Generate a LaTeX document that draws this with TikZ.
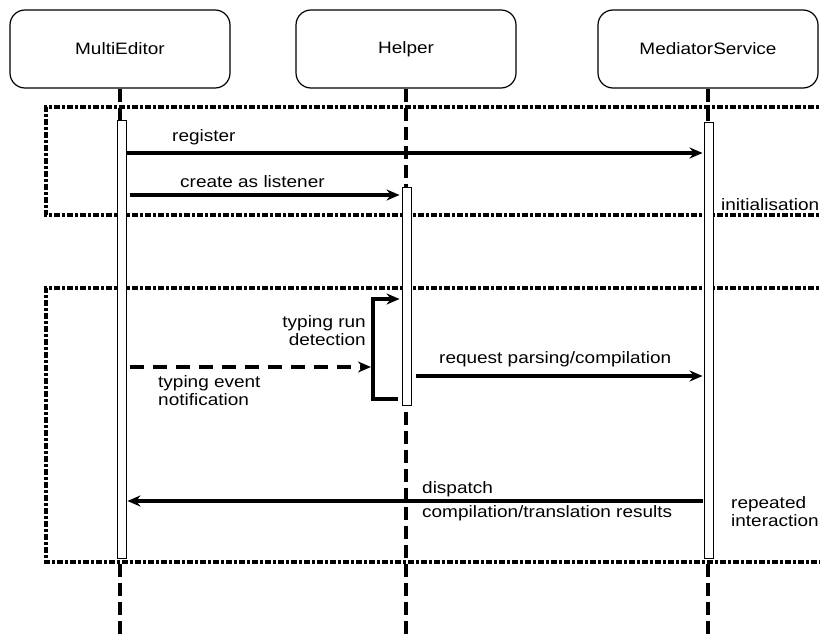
\documentclass[tikz,border=0pt]{standalone}
\usepackage{fontspec}
\setmainfont{Liberation Sans}[FakeStretch=1.15]
\usetikzlibrary{arrows.meta}
\begin{document}
\begin{tikzpicture}[x=1pt,y=-1pt,
  every node/.style={font=\fontsize{16.5}{18}\selectfont, inner sep=0pt},
  objbox/.style={draw, line width=1.2pt, rounded corners=15pt, minimum width=220pt, minimum height=78pt},
  actbar/.style={draw, fill=white, line width=0.9pt, minimum width=9pt},
  lifeline/.style={line width=3.5pt, dash pattern=on 13pt off 6pt},
  frameline/.style={line width=3.2pt, dash pattern=on 6pt off 2pt on 3pt off 2pt},
  msg/.style={line width=3.5pt, -{Stealth[length=13pt,width=11pt]}},
  dmsg/.style={msg, dash pattern=on 14pt off 9pt},
  lbl/.style={anchor=west},
]
\clip (0,0) rectangle (820,634);
\fill[white] (0,0) rectangle (820,634);

% objects
\node[objbox] (me) at (120,49) {MultiEditor};
\node[objbox] (hp) at (406,49) {Helper};
\node[objbox] (ms) at (708,49) {MediatorService};

% frames
\draw[frameline] (840,107) -- (46,107) -- (46,215) -- (840,215);
\draw[frameline] (840,288) -- (46,288) -- (46,562) -- (840,562);

% lifelines
\coordinate (meEnd) at (120,640);
\coordinate (hpEnd) at (406,640);
\coordinate (msEnd) at (708,640);
\draw[lifeline] (me.south) -- (meEnd);
\draw[lifeline] (hp.south) -- (hpEnd);
\draw[lifeline] (ms.south) -- (msEnd);

% activation bars
\node[actbar, minimum height=438pt] (actME) at (121.5,339) {};
\node[actbar, minimum height=218pt] (actHP) at (406.5,296) {};
\node[actbar, minimum height=436pt] (actMS) at (708.5,340) {};

% initialisation
\draw[msg] (actME.east |- 0,153) -- ([xshift=-1pt]actMS.west |- 0,153);
\node[lbl] (lreg) at (172,137) {register};
\draw[msg] ([xshift=4pt]actME.east |- 0,195) -- ([xshift=-2pt]actHP.west |- 0,195);
\node[lbl] (lcreate) at (180,182) {create as listener};
\node[lbl] (linit) at (721,205) {initialisation};

% repeated interaction
\coordinate (loopA) at (398,399);
\coordinate (loopB) at (373,399);
\coordinate (loopC) at (373,299);
\draw[msg] (loopA) -- (loopB) -- (loopC) -- ([xshift=-2pt]actHP.west |- loopC);
\node[anchor=east, align=right] (lrun) at (366,331) {typing run\\detection};

\coordinate (typEnd) at (371,367);
\draw[dmsg] ([xshift=4pt]actME.east |- typEnd) -- (typEnd);
\node[lbl, align=left] (ltype) at (158,391) {typing event\\notification};

\draw[msg] ([xshift=5pt]actHP.east |- 0,376) -- ([xshift=-1pt]actMS.west |- 0,376);
\node[lbl] (lreq) at (439,359) {request parsing/compilation};

\draw[msg] ([xshift=-1pt]actMS.west |- 0,501) -- ([xshift=1pt]actME.east |- 0,501);
\node[lbl] (ldisp) at (422,489) {dispatch};
\node[lbl] (lres) at (422,513) {compilation/translation results};
\node[lbl, align=left] (lrep) at (731,512) {repeated\\interaction};
\end{tikzpicture}
\end{document}
